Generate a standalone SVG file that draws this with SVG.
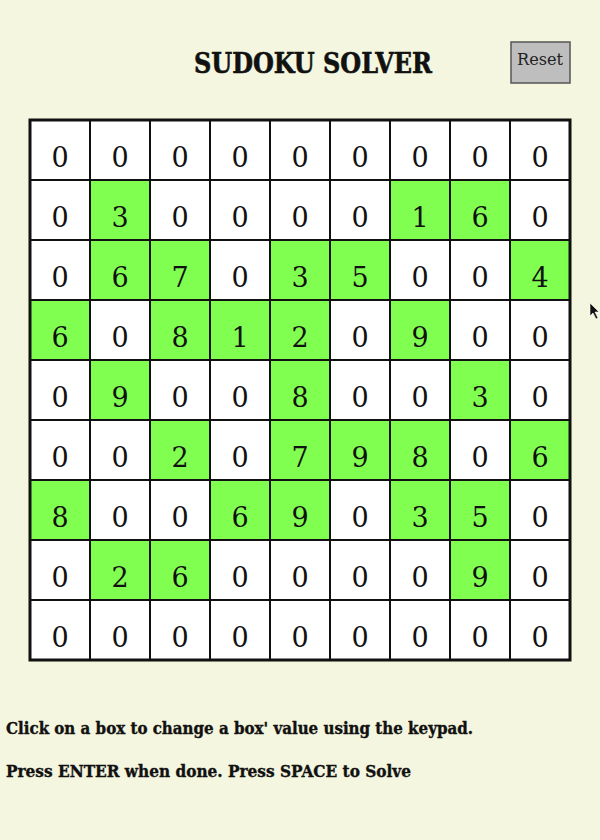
<svg xmlns="http://www.w3.org/2000/svg" width="600" height="840" viewBox="0 0 600 840">
<style>
.bg{fill:#F5F6DF}
.cell{fill:#FFFFFF}
.g{fill:#80FF50}
.d{font-family:"DejaVu Serif","Liberation Serif",serif;font-size:27px;fill:#111;text-anchor:middle}
.thin{stroke:#111;stroke-width:2}
.title{font-family:"DejaVu Serif","Liberation Serif",serif;font-weight:bold;font-size:27px;fill:#111;text-anchor:middle;stroke:#111;stroke-width:0.6}
.info{font-family:"DejaVu Serif","Liberation Serif",serif;font-weight:bold;font-size:17px;fill:#111;stroke:#111;stroke-width:0.4}
.btn{fill:#BEBEBE;stroke:#555;stroke-width:1.5}
.btnt{font-family:"DejaVu Serif","Liberation Serif",serif;font-size:17px;fill:#222;text-anchor:middle}
</style>
<rect class="bg" x="0" y="0" width="600" height="840"/>
<g id="title"><text class="title" x="313" y="73" textLength="238" lengthAdjust="spacingAndGlyphs">SUDOKU SOLVER</text></g>
<g id="reset"><rect class="btn" x="511" y="42" width="59" height="41"/><text class="btnt" x="540" y="65" textLength="46" lengthAdjust="spacingAndGlyphs">Reset</text></g>
<g id="board">
<rect class="cell" x="30" y="120" width="540" height="540"/>
<g id="greens">
<rect class="g" x="90" y="180" width="60" height="60"/>
<rect class="g" x="390" y="180" width="60" height="60"/>
<rect class="g" x="450" y="180" width="60" height="60"/>
<rect class="g" x="90" y="240" width="60" height="60"/>
<rect class="g" x="150" y="240" width="60" height="60"/>
<rect class="g" x="270" y="240" width="60" height="60"/>
<rect class="g" x="330" y="240" width="60" height="60"/>
<rect class="g" x="510" y="240" width="60" height="60"/>
<rect class="g" x="30" y="300" width="60" height="60"/>
<rect class="g" x="150" y="300" width="60" height="60"/>
<rect class="g" x="210" y="300" width="60" height="60"/>
<rect class="g" x="270" y="300" width="60" height="60"/>
<rect class="g" x="390" y="300" width="60" height="60"/>
<rect class="g" x="90" y="360" width="60" height="60"/>
<rect class="g" x="270" y="360" width="60" height="60"/>
<rect class="g" x="450" y="360" width="60" height="60"/>
<rect class="g" x="150" y="420" width="60" height="60"/>
<rect class="g" x="270" y="420" width="60" height="60"/>
<rect class="g" x="330" y="420" width="60" height="60"/>
<rect class="g" x="390" y="420" width="60" height="60"/>
<rect class="g" x="510" y="420" width="60" height="60"/>
<rect class="g" x="30" y="480" width="60" height="60"/>
<rect class="g" x="210" y="480" width="60" height="60"/>
<rect class="g" x="270" y="480" width="60" height="60"/>
<rect class="g" x="390" y="480" width="60" height="60"/>
<rect class="g" x="450" y="480" width="60" height="60"/>
<rect class="g" x="90" y="540" width="60" height="60"/>
<rect class="g" x="150" y="540" width="60" height="60"/>
<rect class="g" x="450" y="540" width="60" height="60"/>
</g>
<g id="lines" class="thin">
<line x1="90" y1="120" x2="90" y2="660"/><line x1="150" y1="120" x2="150" y2="660"/><line x1="210" y1="120" x2="210" y2="660"/><line x1="270" y1="120" x2="270" y2="660"/><line x1="330" y1="120" x2="330" y2="660"/><line x1="390" y1="120" x2="390" y2="660"/><line x1="450" y1="120" x2="450" y2="660"/><line x1="510" y1="120" x2="510" y2="660"/>
<line x1="30" y1="180" x2="570" y2="180"/><line x1="30" y1="240" x2="570" y2="240"/><line x1="30" y1="300" x2="570" y2="300"/><line x1="30" y1="360" x2="570" y2="360"/><line x1="30" y1="420" x2="570" y2="420"/><line x1="30" y1="480" x2="570" y2="480"/><line x1="30" y1="540" x2="570" y2="540"/><line x1="30" y1="600" x2="570" y2="600"/>
</g>
<rect x="30" y="120" width="540" height="540" fill="none" stroke="#111" stroke-width="3"/>
<g id="digits" class="d">
<text x="60" y="167">0</text><text x="120" y="167">0</text><text x="180" y="167">0</text><text x="240" y="167">0</text><text x="300" y="167">0</text><text x="360" y="167">0</text><text x="420" y="167">0</text><text x="480" y="167">0</text><text x="540" y="167">0</text>
<text x="60" y="227">0</text><text x="120" y="227">3</text><text x="180" y="227">0</text><text x="240" y="227">0</text><text x="300" y="227">0</text><text x="360" y="227">0</text><text x="420" y="227">1</text><text x="480" y="227">6</text><text x="540" y="227">0</text>
<text x="60" y="287">0</text><text x="120" y="287">6</text><text x="180" y="287">7</text><text x="240" y="287">0</text><text x="300" y="287">3</text><text x="360" y="287">5</text><text x="420" y="287">0</text><text x="480" y="287">0</text><text x="540" y="287">4</text>
<text x="60" y="347">6</text><text x="120" y="347">0</text><text x="180" y="347">8</text><text x="240" y="347">1</text><text x="300" y="347">2</text><text x="360" y="347">0</text><text x="420" y="347">9</text><text x="480" y="347">0</text><text x="540" y="347">0</text>
<text x="60" y="407">0</text><text x="120" y="407">9</text><text x="180" y="407">0</text><text x="240" y="407">0</text><text x="300" y="407">8</text><text x="360" y="407">0</text><text x="420" y="407">0</text><text x="480" y="407">3</text><text x="540" y="407">0</text>
<text x="60" y="467">0</text><text x="120" y="467">0</text><text x="180" y="467">2</text><text x="240" y="467">0</text><text x="300" y="467">7</text><text x="360" y="467">9</text><text x="420" y="467">8</text><text x="480" y="467">0</text><text x="540" y="467">6</text>
<text x="60" y="527">8</text><text x="120" y="527">0</text><text x="180" y="527">0</text><text x="240" y="527">6</text><text x="300" y="527">9</text><text x="360" y="527">0</text><text x="420" y="527">3</text><text x="480" y="527">5</text><text x="540" y="527">0</text>
<text x="60" y="587">0</text><text x="120" y="587">2</text><text x="180" y="587">6</text><text x="240" y="587">0</text><text x="300" y="587">0</text><text x="360" y="587">0</text><text x="420" y="587">0</text><text x="480" y="587">9</text><text x="540" y="587">0</text>
<text x="60" y="647">0</text><text x="120" y="647">0</text><text x="180" y="647">0</text><text x="240" y="647">0</text><text x="300" y="647">0</text><text x="360" y="647">0</text><text x="420" y="647">0</text><text x="480" y="647">0</text><text x="540" y="647">0</text>
</g>
</g>
<g id="instructions">
<text class="info" x="6" y="734" textLength="467" lengthAdjust="spacingAndGlyphs">Click on a box to change a box' value using the keypad.</text>
<text class="info" x="6" y="777" textLength="405" lengthAdjust="spacingAndGlyphs">Press ENTER when done. Press SPACE to Solve</text>
</g>
<g id="cursor"><polygon points="590,303 590,316 593,313 596,319 598,318 595,312 599,312" fill="#111" stroke="#fff" stroke-width="0.6"/></g>
</svg>
